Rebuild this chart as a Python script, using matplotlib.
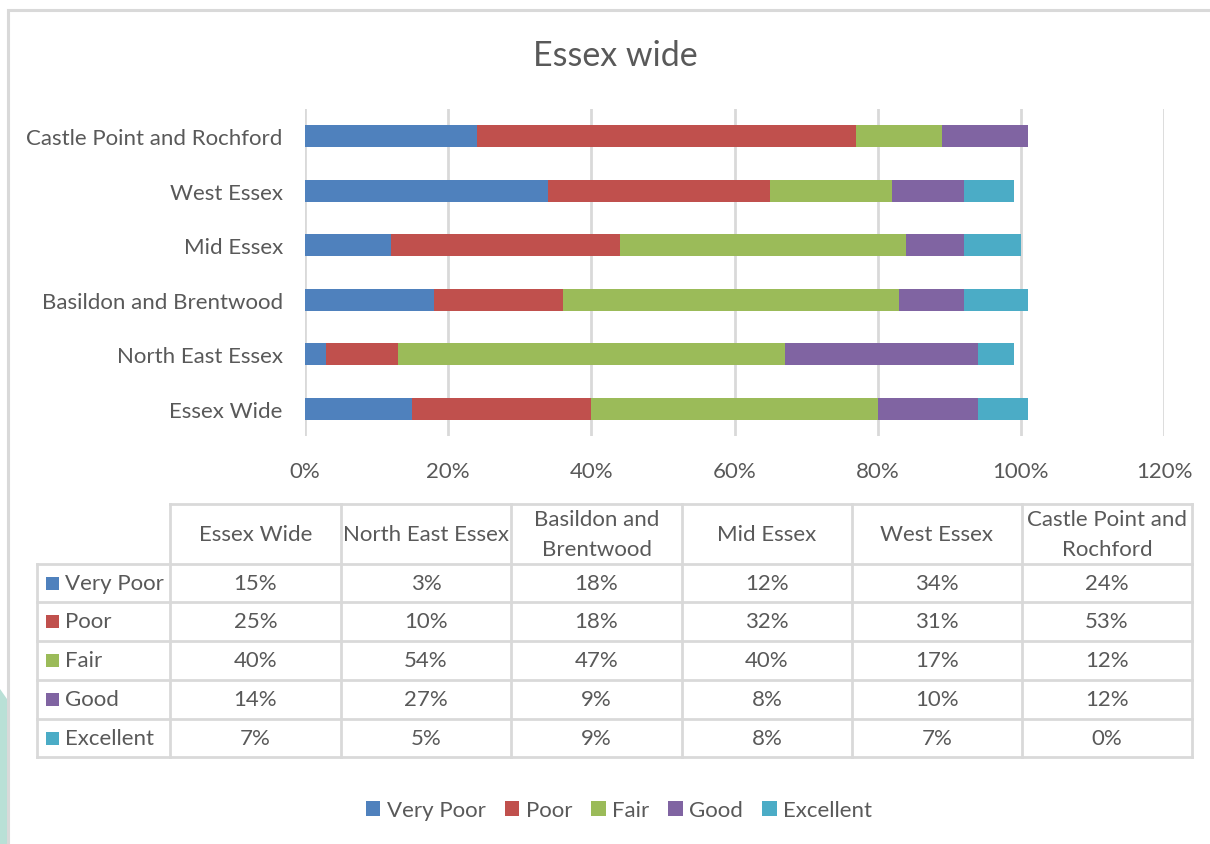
import matplotlib
matplotlib.use("Agg")
import matplotlib.pyplot as plt
from matplotlib.patches import Rectangle, Polygon

plt.rcParams['font.family'] = ['Lato', 'DejaVu Sans']

# Regions, listed bottom-to-top as they appear on the chart
regions = ["Essex Wide", "North East Essex", "Basildon and Brentwood",
           "Mid Essex", "West Essex", "Castle Point and Rochford"]
table_headers = ["Essex Wide", "North East Essex", "Basildon and\nBrentwood",
                 "Mid Essex", "West Essex", "Castle Point and\nRochford"]
ratings = ["Very Poor", "Poor", "Fair", "Good", "Excellent"]

very_poor = [15, 3, 18, 12, 34, 24]
poor      = [25, 10, 18, 32, 31, 53]
fair      = [40, 54, 47, 40, 17, 12]
good      = [14, 27, 9, 8, 10, 12]
excellent = [7, 5, 9, 8, 7, 0]
series = [very_poor, poor, fair, good, excellent]

colors = ["#4F81BD", "#C0504D", "#9BBB59", "#8064A2", "#4BACC6"]
text_col = "#595959"
grid_col = "#D9D9D9"

W, H = 1210, 845
fig = plt.figure(figsize=(W / 100, H / 100), dpi=100)

# Page overlay in pixel coordinates (for frame, table and legend)
page = fig.add_axes([0, 0, 1, 1])
page.set_xlim(0, W)
page.set_ylim(H, 0)
page.axis("off")

# Decorative background shape at left edge and the chart frame
page.add_patch(Polygon([[0, 690], [7, 700], [7, H], [0, H]], closed=True,
                       facecolor="#B9E0D6", edgecolor="none", zorder=0))
page.add_patch(Rectangle((7.5, 10.5), W, H, facecolor="white",
                         edgecolor=grid_col, lw=2.2, zorder=1))

# Main stacked bar chart
x0, x1 = 305, 1164
ytop, ybot = 110, 437
ax = fig.add_axes([x0 / W, 1 - ybot / H, (x1 - x0) / W, (ybot - ytop) / H])
ax.set_zorder(2)
ax.patch.set_alpha(0)
left = [0] * len(regions)
ypos = list(range(len(regions)))
for vals, col, name in zip(series, colors, ratings):
    ax.barh(ypos, vals, left=left, height=0.4, color=col, label=name, zorder=3)
    left = [a + b for a, b in zip(left, vals)]
ax.set_xlim(0, 120)
ax.set_ylim(-0.5, len(regions) - 0.5)
ax.set_xticks(range(0, 121, 20))
ax.set_xticklabels([f"{t}%" for t in range(0, 121, 20)])
ax.set_yticks(ypos)
ax.set_yticklabels(regions)
ax.tick_params(axis="both", length=0, labelsize=16, colors=text_col)
ax.tick_params(axis="x", pad=18)
ax.tick_params(axis="y", pad=16)
ax.grid(axis="x", color=grid_col, lw=2, zorder=0)
for s in ax.spines.values():
    s.set_visible(False)

# Title
page.text(615, 56, "Essex wide", ha="center", va="center",
          fontsize=24.5, color=text_col, zorder=5)

# Data table beneath the chart
col_edges = [37, 170, 341, 511, 682, 852, 1022, 1192]
row_edges = [505, 565, 603, 642, 681, 720, 758]
lkw = dict(color=grid_col, lw=2, zorder=4, solid_capstyle="projecting")
# horizontal lines
page.plot([col_edges[1], col_edges[-1]], [row_edges[0]] * 2, **lkw)
for y in row_edges[1:]:
    page.plot([col_edges[0], col_edges[-1]], [y, y], **lkw)
# vertical lines
page.plot([col_edges[0]] * 2, [row_edges[1], row_edges[-1]], **lkw)
for x in col_edges[1:]:
    page.plot([x, x], [row_edges[0], row_edges[-1]], **lkw)

tkw = dict(fontsize=16, color=text_col, va="center", zorder=5)
for j, hdr in enumerate(table_headers):
    cx = (col_edges[j + 1] + col_edges[j + 2]) / 2
    cy = (row_edges[0] + row_edges[1]) / 2
    page.text(cx, cy, hdr, ha="center", linespacing=1.6, **tkw)
for i, (name, vals, col) in enumerate(zip(ratings, series, colors)):
    cy = (row_edges[i + 1] + row_edges[i + 2]) / 2
    page.add_patch(Rectangle((46, cy - 6.5), 13, 13, facecolor=col,
                             edgecolor="none", zorder=5))
    page.text(65, cy, name, ha="left", **tkw)
    for j, v in enumerate(vals):
        cx = (col_edges[j + 1] + col_edges[j + 2]) / 2
        page.text(cx, cy, f"{v}%", ha="center", **tkw)

# Legend
handles, labels = ax.get_legend_handles_labels()
leg = fig.legend(handles, labels, loc="center", bbox_to_anchor=(619 / W, 1 - 811 / H),
                 ncol=5, frameon=False, fontsize=16, handlelength=0.65,
                 handleheight=0.65, handletextpad=0.3, columnspacing=0.85,
                 labelcolor=text_col)
leg.set_zorder(6)

fig.savefig("out.png", dpi=100)
